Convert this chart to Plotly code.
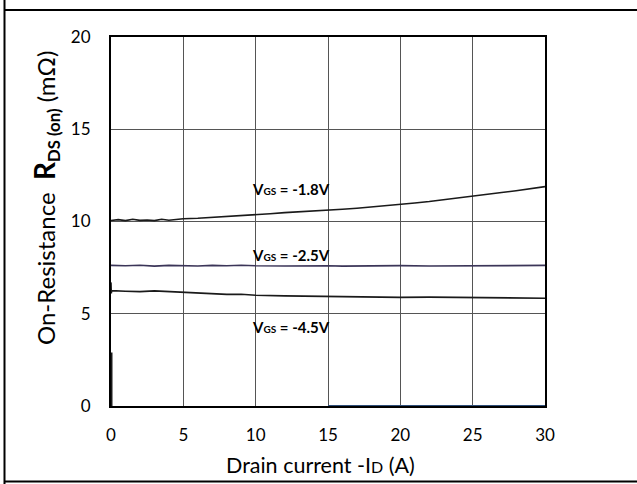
import plotly.graph_objects as go

# ---- data ----
x_18 = [0, 0.5, 1, 1.5, 2, 2.5, 3, 3.5, 4, 4.5, 5, 6, 7, 8, 9, 10, 11, 12, 13, 14, 15,
        16, 17, 18, 19, 20, 21, 22, 23, 24, 25, 26, 27, 28, 29, 30]
r_18 = [10.05, 10.1, 10.05, 10.12, 10.06, 10.08, 10.05, 10.12, 10.07, 10.12, 10.15, 10.18,
        10.22, 10.28, 10.3, 10.38, 10.42, 10.48, 10.52, 10.58, 10.6, 10.66, 10.72, 10.78,
        10.85, 10.93, 11.0, 11.08, 11.17, 11.27, 11.38, 11.47, 11.57, 11.67, 11.78, 11.89]

x_25 = [0, 1, 2, 3, 4, 5, 6, 7, 8, 9, 10, 12, 14, 15, 16, 18, 20, 22, 24, 25, 26, 28, 30]
r_25 = [7.62, 7.6, 7.63, 7.58, 7.62, 7.6, 7.59, 7.62, 7.6, 7.63, 7.6, 7.59, 7.61, 7.6,
        7.58, 7.6, 7.61, 7.59, 7.6, 7.62, 7.6, 7.61, 7.62]

x_45 = [0, 0.02, 0.05, 1, 2, 3, 4, 5, 6, 7, 8, 9, 10, 12, 14, 15, 17, 20, 22, 25, 27, 30]
r_45 = [6.7, 6.1, 6.25, 6.22, 6.2, 6.24, 6.2, 6.2, 6.15, 6.1, 6.05, 6.06, 6.0, 5.97,
        5.95, 5.92, 5.9, 5.89, 5.9, 5.87, 5.86, 5.84]

x_base = [15, 30]
r_base = [0, 0]
x_start = [0, 0]
r_start = [0, 2.9]

x_ticks = [0, 5, 10, 15, 20, 25, 30]
y_ticks = [0, 5, 10, 15, 20]

labels = ["V<span style='font-size:10px'>GS</span> = -1.8V",
          "V<span style='font-size:10px'>GS</span> = -2.5V",
          "V<span style='font-size:10px'>GS</span> = -4.5V"]
label_x = [9.6, 9.6, 9.6]
label_y = [11.78, 8.17, 4.27]

FONT = "Lato"

fig = go.Figure()
fig.add_trace(go.Scatter(x=x_18, y=r_18, mode="lines", line=dict(color="#1a1a1a", width=1.6),
                         showlegend=False, cliponaxis=False))
fig.add_trace(go.Scatter(x=x_25, y=r_25, mode="lines", line=dict(color="#3b3558", width=1.6),
                         showlegend=False, cliponaxis=False))
fig.add_trace(go.Scatter(x=x_45, y=r_45, mode="lines", line=dict(color="#1a1a1a", width=1.6),
                         showlegend=False, cliponaxis=False))
fig.add_trace(go.Scatter(x=x_base, y=r_base, mode="lines", line=dict(color="#2f4f7a", width=2),
                         showlegend=False, cliponaxis=False))
fig.add_trace(go.Scatter(x=x_start, y=r_start, mode="lines", line=dict(color="#1a1a1a", width=3),
                         showlegend=False, cliponaxis=False))

for t, lx, ly in zip(labels, label_x, label_y):
    fig.add_annotation(x=lx, y=ly, text="<b>" + t + "</b>", showarrow=False,
                       xanchor="left", yanchor="middle",
                       font=dict(family=FONT, size=15, color="black"))

# y-axis title
fig.add_annotation(xref="paper", yref="paper",
                   x=(45 - 111) / 434, y=(406 - 198) / 369,
                   text="On-Resistance  <b><span style='font-size:28px'>R</span>"
                        "<sub>DS (on)</sub></b> (mΩ)",
                   textangle=-90, showarrow=False, xanchor="center", yanchor="middle",
                   font=dict(family=FONT, size=24, color="black"))
# x-axis title
fig.add_annotation(xref="paper", yref="paper",
                   x=(320 - 111) / 434, y=(406 - 465) / 369,
                   text="Drain current -I<span style='font-size:16px'>D</span> (A)",
                   showarrow=False, xanchor="center", yanchor="middle",
                   font=dict(family=FONT, size=21.5, color="black"))

# outer frame lines
frame = dict(color="black", width=2)
fig.add_shape(type="line", xref="paper", yref="paper",
              x0=(4.5 - 111) / 434, x1=(4.5 - 111) / 434,
              y0=(406 - 490) / 369, y1=(406 + 5) / 369, line=frame)
fig.add_shape(type="line", xref="paper", yref="paper",
              x0=(4.5 - 111) / 434, x1=(640 - 111) / 434,
              y0=(406 - 10) / 369, y1=(406 - 10) / 369, line=frame)
fig.add_shape(type="line", xref="paper", yref="paper",
              x0=(4.5 - 111) / 434, x1=(640 - 111) / 434,
              y0=(406 - 481.5) / 369, y1=(406 - 481.5) / 369, line=frame)

fig.update_xaxes(range=[0, 30], tickvals=x_ticks, showgrid=True, gridcolor="#555555",
                 gridwidth=1, showline=True, linecolor="black", linewidth=2, mirror=True,
                 zeroline=False, ticks="", ticklabelstandoff=13,
                 tickfont=dict(family=FONT, size=17, color="black"))
fig.update_yaxes(range=[0, 20], tickvals=y_ticks, showgrid=True, gridcolor="#555555",
                 gridwidth=1, showline=True, linecolor="black", linewidth=2, mirror=True,
                 zeroline=False, ticks="", ticklabelstandoff=15,
                 tickfont=dict(family=FONT, size=17, color="black"))

fig.update_layout(width=637, height=484, margin=dict(l=111, r=92, t=37, b=78),
                  paper_bgcolor="white", plot_bgcolor="white", showlegend=False)

fig.write_html("out.html")
